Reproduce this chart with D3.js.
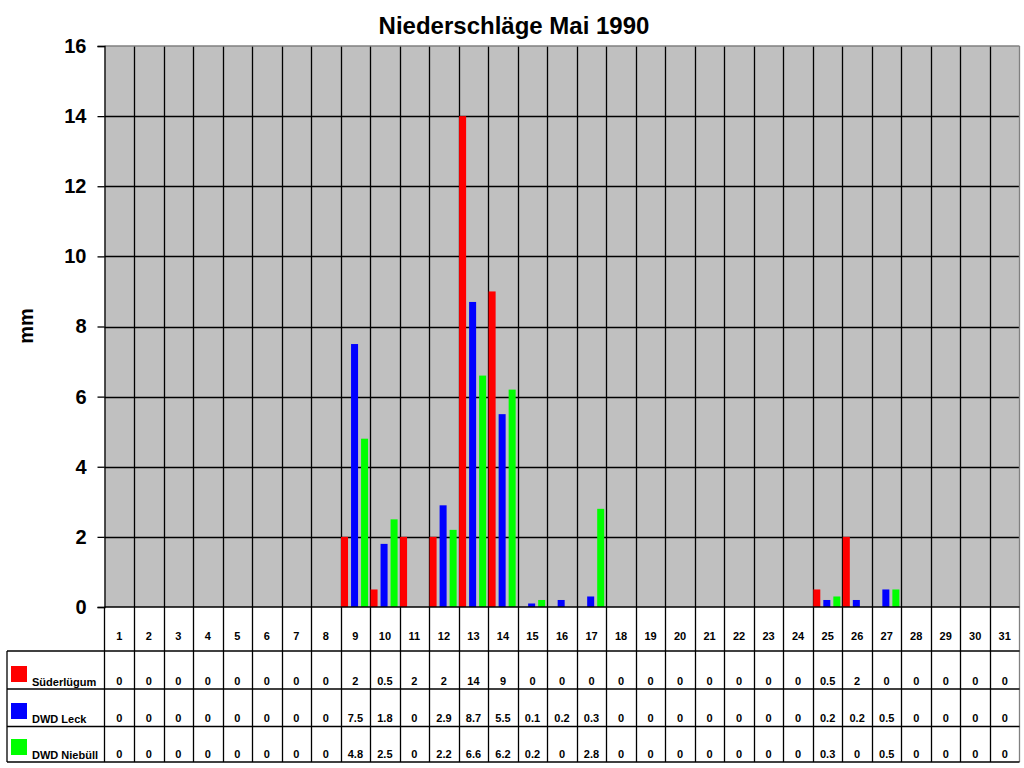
<!DOCTYPE html>
<html>
<head>
<meta charset="utf-8">
<script src="https://cdn.jsdelivr.net/npm/d3@7/dist/d3.min.js"></script>
<style>
  body { margin: 0; background: #fff; }
  text { font-family: Arial, "Liberation Sans", sans-serif; font-weight: bold; fill: #000; }
</style>
</head>
<body>
<div id="chart"></div>
<script>
// data
var days = ["1","2","3","4","5","6","7","8","9","10","11","12","13","14","15","16",
  "17","18","19","20","21","22","23","24","25","26","27","28","29","30","31"];
var seriesNames = ["Süderlügum", "DWD Leck", "DWD Niebüll"];
var seriesColors = ["#ff0000", "#0000ff", "#00ff00"];
var suederluegum = [0,0,0,0,0,0,0,0,2,0.5,2,2,14,9,0,0,0,0,0,0,0,0,0,0,0.5,2,0,0,0,0,0];
var dwdLeck = [0,0,0,0,0,0,0,0,7.5,1.8,0,2.9,8.7,5.5,0.1,0.2,0.3,0,0,0,0,0,0,0,0.2,0.2,0.5,0,0,0,0];
var dwdNiebuell = [0,0,0,0,0,0,0,0,4.8,2.5,0,2.2,6.6,6.2,0.2,0,2.8,0,0,0,0,0,0,0,0.3,0,0.5,0,0,0,0];
var yTicks = [0, 2, 4, 6, 8, 10, 12, 14, 16];

var seriesValues = [suederluegum, dwdLeck, dwdNiebuell];

var svgWidth = 1024;
var svgHeight = 768;

var plot = { left: 104.5, top: 46, right: 1019.5, bottom: 607 };
var rowLines = [651, 689, 726.5, 762];   // table row borders
var rowBase = [685, 722, 758];           // text baselines per row
var tableLeft = 7;

var svg = d3.select("#chart")
  .append("svg")
  .attr("width", svgWidth)
  .attr("height", svgHeight);

// scales
var xScale = d3.scaleBand()
  .domain(days)
  .range([plot.left, plot.right]);

var bw = xScale.bandwidth();

var xSub = d3.scaleBand()
  .domain(seriesNames)
  .range([0.4, bw * 0.93])
  .paddingInner(0.3);

var yScale = d3.scaleLinear()
  .domain([0, 16])
  .range([plot.bottom, plot.top]);

// plot background
svg.append("rect")
  .attr("x", plot.left)
  .attr("y", plot.top)
  .attr("width", plot.right - plot.left)
  .attr("height", plot.bottom - plot.top)
  .attr("fill", "#c0c0c0");

// horizontal gridlines
svg.append("g")
  .selectAll("line")
  .data(yTicks.slice(1, -1))
  .enter()
  .append("line")
  .attr("x1", plot.left)
  .attr("x2", plot.right)
  .attr("y1", d => Math.round(yScale(d)) + 0.5)
  .attr("y2", d => Math.round(yScale(d)) + 0.5)
  .attr("stroke", "#000")
  .attr("stroke-width", 1.3);

// vertical lines between days, running down through the table
svg.append("g")
  .selectAll("line")
  .data(days.slice(1))
  .enter()
  .append("line")
  .attr("x1", d => Math.round(xScale(d)) + 0.5)
  .attr("x2", d => Math.round(xScale(d)) + 0.5)
  .attr("y1", plot.top)
  .attr("y2", rowLines[3])
  .attr("stroke", "#000")
  .attr("stroke-width", 1.3);

// bars
seriesNames.forEach((name, i) => {
  svg.append("g")
    .selectAll("rect")
    .data(seriesValues[i].map((v, j) => ({ day: days[j], v: v })))
    .enter()
    .filter(d => d.v > 0)
    .append("rect")
    .attr("x", d => xScale(d.day) + xSub(name))
    .attr("y", d => yScale(d.v))
    .attr("width", xSub.bandwidth())
    .attr("height", d => yScale(0) - yScale(d.v))
    .attr("fill", seriesColors[i]);
});

// plot border: gray top/right, black left/bottom
svg.append("line")
  .attr("x1", plot.left).attr("x2", plot.right)
  .attr("y1", plot.top).attr("y2", plot.top)
  .attr("stroke", "#808080").attr("stroke-width", 1.3);
svg.append("line")
  .attr("x1", plot.right).attr("x2", plot.right)
  .attr("y1", plot.top).attr("y2", rowLines[3])
  .attr("stroke", "#808080").attr("stroke-width", 1.3);

// y axis
var yAxis = d3.axisLeft(yScale)
  .tickValues(yTicks)
  .tickSize(7)
  .tickPadding(11)
  .tickFormat(d3.format("d"));

var gy = svg.append("g")
  .attr("transform", `translate(${plot.left}, 0)`)
  .call(yAxis);
gy.select(".domain").attr("stroke", "#000").attr("stroke-width", 1.3);
gy.selectAll(".tick line").attr("stroke", "#000").attr("stroke-width", 1.3);
gy.selectAll(".tick text")
  .attr("font-size", 20)
  .attr("font-family", "Arial, 'Liberation Sans', sans-serif")
  .attr("font-weight", "bold")
  .attr("fill", "#000");

// left line of the table, down from the axis
svg.append("line")
  .attr("x1", plot.left).attr("x2", plot.left)
  .attr("y1", plot.bottom).attr("y2", rowLines[3])
  .attr("stroke", "#000").attr("stroke-width", 1.3);

// x axis line (plot bottom)
svg.append("line")
  .attr("x1", plot.left).attr("x2", plot.right)
  .attr("y1", plot.bottom).attr("y2", plot.bottom)
  .attr("stroke", "#000").attr("stroke-width", 1.3);

// table row borders
svg.append("g")
  .selectAll("line")
  .data(rowLines)
  .enter()
  .append("line")
  .attr("x1", tableLeft)
  .attr("x2", plot.right)
  .attr("y1", d => d)
  .attr("y2", d => d)
  .attr("stroke", "#000")
  .attr("stroke-width", 1.3);

svg.append("line")
  .attr("x1", tableLeft).attr("x2", tableLeft)
  .attr("y1", rowLines[0]).attr("y2", rowLines[3])
  .attr("stroke", "#000").attr("stroke-width", 1.3);

// day labels
svg.append("g")
  .selectAll("text")
  .data(days)
  .enter()
  .append("text")
  .attr("x", d => xScale(d) + bw / 2)
  .attr("y", 640)
  .attr("text-anchor", "middle")
  .attr("font-size", 11)
  .text(d => d);

// table values + legend
seriesNames.forEach((name, i) => {
  svg.append("g")
    .selectAll("text")
    .data(seriesValues[i])
    .enter()
    .append("text")
    .attr("x", (d, j) => xScale(days[j]) + bw / 2)
    .attr("y", rowBase[i])
    .attr("text-anchor", "middle")
    .attr("font-size", 11)
    .text(d => String(d));

  svg.append("rect")
    .attr("x", 11)
    .attr("y", rowBase[i] - 19)
    .attr("width", 16)
    .attr("height", 16)
    .attr("fill", seriesColors[i]);

  svg.append("text")
    .attr("x", 32)
    .attr("y", rowBase[i] + 1)
    .attr("font-size", 11)
    .text(name);
});

// title
svg.append("text")
  .attr("x", 514)
  .attr("y", 34)
  .attr("text-anchor", "middle")
  .attr("font-size", 24)
  .text("Niederschläge Mai 1990");

// y label
svg.append("text")
  .attr("transform", "translate(33, 326) rotate(-90)")
  .attr("text-anchor", "middle")
  .attr("font-size", 20)
  .text("mm");
</script>
</body>
</html>
